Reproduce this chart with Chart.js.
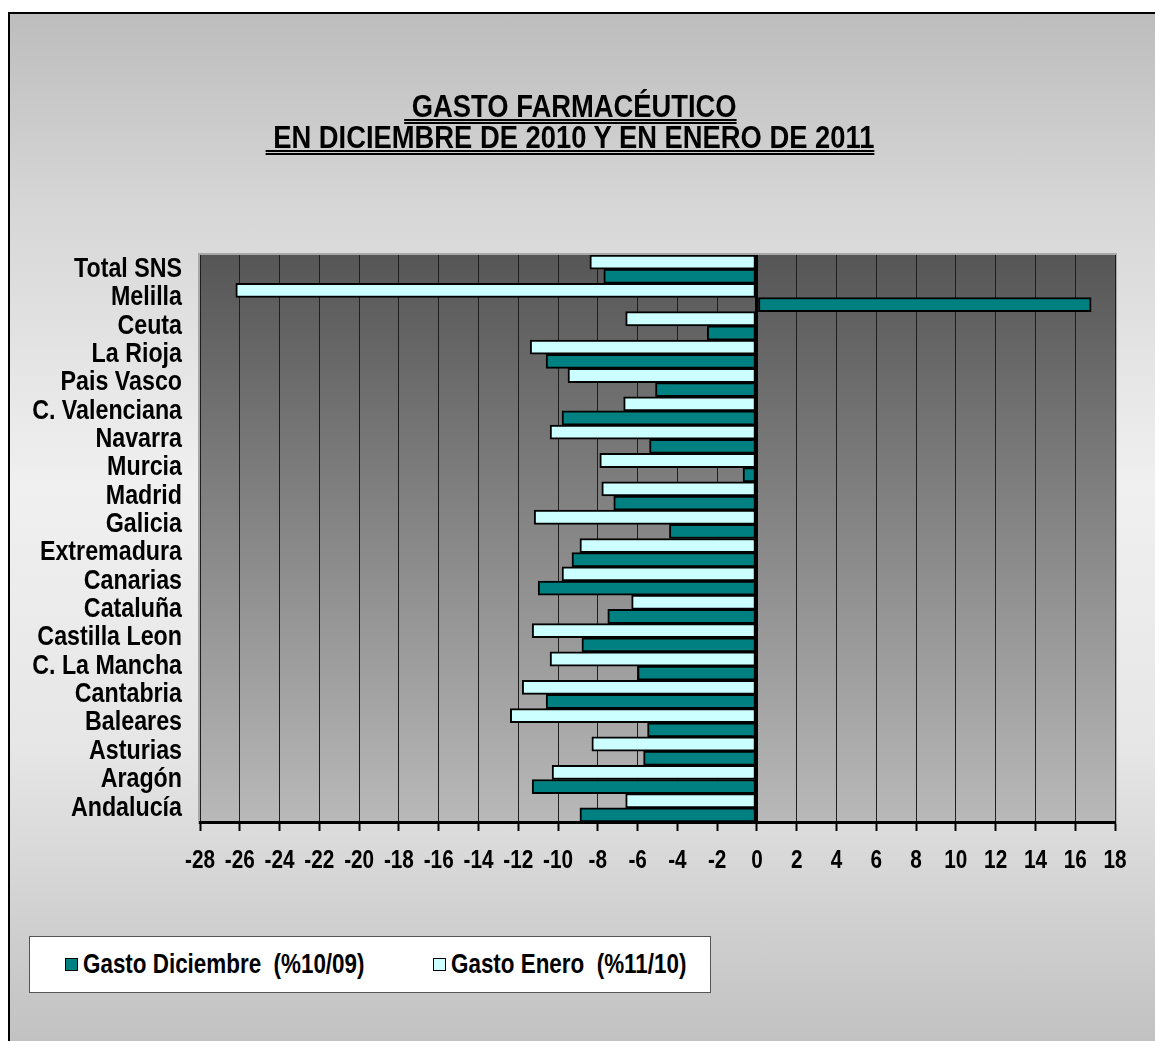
<!DOCTYPE html>
<html>
<head>
<meta charset="utf-8">
<script src="https://cdn.jsdelivr.net/npm/chart.js@4.4.1/dist/chart.umd.min.js"></script>
<style>
  html, body { margin: 0; padding: 0; background: #fff; overflow: hidden; }
  body { width: 1155px; height: 1041px; position: relative; }
  #marco {
    position: absolute; left: 8px; top: 12px; width: 1170px; height: 1050px;
    border-left: 2px solid #000; border-top: 2px solid #000;
    background: linear-gradient(to bottom, #bdbdbd 0%, #d6d6d6 18%, #f0f0f0 45%, #e6e6e6 70%, #d2d2d2 85%, #bfbfbf 100%);
    font-family: "Liberation Sans", Arial, sans-serif;
  }
  #titulo {
    position: absolute; left: 0; top: 77px; width: 1120px; text-align: center;
    font-size: 32px; font-weight: bold; line-height: 31px; color: #000;
  }
  #titulo span {
    display: inline-block; transform: scaleX(0.855); transform-origin: center;
    text-decoration: underline double; text-decoration-thickness: 2px; text-underline-offset: 2px;
  }
  #grafico { position: absolute; left: 0; top: 0; }
  #leyenda {
    position: absolute; left: 19px; top: 922px; width: 680px; height: 55px;
    background: #fff; border: 1px solid #555;
    font-size: 27px; font-weight: bold; color: #000;
  }
  .item { position: absolute; top: 0; height: 55px; display: flex; align-items: center; white-space: pre; }
  .caja { width: 11px; height: 11px; border: 1px solid #000; margin-right: 5px; flex: none; }
  .texto { display: inline-block; transform: scaleX(0.83); transform-origin: left center; }
</style>
</head>
<body>
<div id="marco">
  <canvas id="grafico" width="1150" height="1030"></canvas>
  <div id="titulo"></div>
  <div id="leyenda"></div>
</div>
<script>
// Comunidades, de arriba a abajo
const comunidades = ["Total SNS", "Melilla", "Ceuta", "La Rioja", "Pais Vasco", "C. Valenciana", "Navarra",
  "Murcia", "Madrid", "Galicia", "Extremadura", "Canarias", "Cataluña", "Castilla Leon", "C. La Mancha",
  "Cantabria", "Baleares", "Asturias", "Aragón", "Andalucía"];

// Gasto Enero (%11/10)
const gastoEnero = [-8.4, -26.2, -6.6, -11.4, -9.5, -6.7, -10.4, -7.9, -7.8, -11.2,
  -8.9, -9.8, -6.3, -11.3, -10.4, -11.8, -12.4, -8.3, -10.3, -6.6];

// Gasto Diciembre (%10/09)
const gastoDiciembre = [-7.7, 16.8, -2.5, -10.6, -5.1, -9.8, -5.4, -0.7, -7.2, -4.4,
  -9.3, -11.0, -7.5, -8.8, -6.0, -10.6, -5.5, -5.7, -11.3, -8.9];

const etiquetaDiciembre = "Gasto Diciembre  (%10/09)";
const etiquetaEnero = "Gasto Enero  (%11/10)";
const tituloLineas = ["GASTO FARMACÉUTICO", "EN DICIEMBRE DE 2010 Y EN ENERO DE 2011"];

const ejeMin = -28;
const ejeMax = 18;
const ejePaso = 2;

const fuente = '"Liberation Sans", Arial, sans-serif';
const estrecho = 0.83; // el original usa letra estrecha

// titulo
document.getElementById("titulo").innerHTML = tituloLineas
  .map(t => "<span>&nbsp;" + t + "</span>").join("<br>");

// fondo degradado del area de trazado
const fondoArea = {
  id: "fondoArea",
  beforeDraw(chart) {
    const { ctx, chartArea } = chart;
    const g = ctx.createLinearGradient(0, chartArea.top, 0, chartArea.bottom);
    g.addColorStop(0, "#565656");
    g.addColorStop(1, "#b9b9b9");
    ctx.save();
    ctx.fillStyle = g;
    ctx.fillRect(chartArea.left, chartArea.top, chartArea.right - chartArea.left, chartArea.bottom - chartArea.top);
    ctx.strokeStyle = "#a8a8a8";
    ctx.lineWidth = 2;
    ctx.strokeRect(chartArea.left - 1, chartArea.top - 1, chartArea.right - chartArea.left + 2, chartArea.bottom - chartArea.top + 2);
    ctx.restore();
  }
};

// etiquetas de los ejes con letra estrecha
function textoEstrecho(ctx, txt, x, y) {
  ctx.save();
  ctx.translate(x, y);
  ctx.scale(estrecho, 1);
  ctx.fillText(txt, 0, 0);
  ctx.restore();
}

const etiquetasEjes = {
  id: "etiquetasEjes",
  afterDraw(chart) {
    const { ctx } = chart;
    const sx = chart.scales.x;
    const sy = chart.scales.y;
    ctx.save();
    ctx.fillStyle = "#000";
    ctx.textBaseline = "middle";

    ctx.font = "bold 25px " + fuente;
    ctx.textAlign = "center";
    sx.ticks.forEach((t, i) => {
      textoEstrecho(ctx, String(t.value), sx.getPixelForTick(i), sx.top + 39);
    });

    ctx.font = "bold 28px " + fuente;
    ctx.textAlign = "right";
    sy.ticks.forEach((t, i) => {
      textoEstrecho(ctx, sy.getLabelForValue(t.value), sy.right - 18, sy.getPixelForTick(i));
    });
    ctx.restore();
  }
};

const ctx = document.getElementById("grafico").getContext("2d");
const chart = new Chart(ctx, {
  type: "bar",
  data: {
    labels: comunidades,
    datasets: [
      {
        label: etiquetaEnero,
        data: gastoEnero,
        backgroundColor: "#CCFFFF",
        borderColor: "#000",
        borderWidth: 2,
        borderSkipped: false,
      },
      {
        label: etiquetaDiciembre,
        data: gastoDiciembre,
        backgroundColor: "#008080",
        borderColor: "#000",
        borderWidth: 2,
        borderSkipped: false,
      }
    ]
  },
  options: {
    indexAxis: "y",
    responsive: false,
    animation: false,
    layout: { padding: { left: 0, top: 241, right: 45, bottom: 162 } },
    datasets: { bar: { categoryPercentage: 1, barPercentage: 1 } },
    plugins: {
      legend: { display: false },
      tooltip: { enabled: false },
      title: { display: false }
    },
    scales: {
      x: {
        min: ejeMin,
        max: ejeMax,
        afterFit(scale) { scale.height = 60; },
        ticks: { stepSize: ejePaso, display: false, autoSkip: false },
        grid: {
          color: c => c.tick && c.tick.value === 0 ? "#000" : "#1e1e1e",
          lineWidth: c => c.tick && c.tick.value === 0 ? 3 : 1,
          tickColor: "#000",
          tickWidth: 2,
          tickLength: 9
        },
        border: { display: true, color: "#000", width: 3 }
      },
      y: {
        afterFit(scale) { scale.width = 190; },
        ticks: { display: false, autoSkip: false },
        grid: { display: false, drawTicks: false },
        border: { display: false }
      }
    }
  },
  plugins: [fondoArea, etiquetasEjes]
});

// leyenda
const leyenda = document.getElementById("leyenda");
const posiciones = [35, 403];
[chart.data.datasets[1], chart.data.datasets[0]].forEach((ds, i) => {
  const item = document.createElement("div");
  item.className = "item";
  item.style.left = posiciones[i] + "px";
  const caja = document.createElement("span");
  caja.className = "caja";
  caja.style.background = ds.backgroundColor;
  const texto = document.createElement("span");
  texto.className = "texto";
  texto.textContent = ds.label;
  item.appendChild(caja);
  item.appendChild(texto);
  leyenda.appendChild(item);
});
</script>
</body>
</html>
